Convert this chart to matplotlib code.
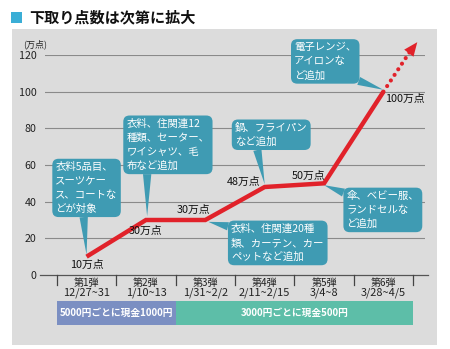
import matplotlib
matplotlib.use("Agg")
import matplotlib.pyplot as plt
from matplotlib.patches import Rectangle, FancyArrowPatch

plt.rcParams['font.family'] = ['Noto Sans CJK JP', 'DejaVu Sans']

# ---- data ----
rounds = ["第1弾", "第2弾", "第3弾", "第4弾", "第5弾", "第6弾"]
dates = ["12/27~31", "1/10~13", "1/31~2/2", "2/11~2/15", "3/4~8", "3/28~4/5"]
points = [10, 30, 30, 48, 50, 100]
point_labels = ["10万点", "30万点", "30万点", "48万点", "50万点", "100万点"]
yticks = [0, 20, 40, 60, 80, 100, 120]
callouts = [
    "衣料5品目、\nスーツケー\nス、コートな\nどが対象",
    "衣料、住関連12\n種類、セーター、\nワイシャツ、毛\n布など追加",
    "衣料、住関連20種\n類、カーテン、カー\nペットなど追加",
    "鍋、フライパン\nなど追加",
    "傘、ベビー服、\nランドセルな\nど追加",
    "電子レンジ、\nアイロンな\nど追加",
]
bands = ["5000円ごとに現金1000円", "3000円ごとに現金500円"]

RED = "#e1222a"
TEAL = "#3f9bb3"
GRID = "#8a8a8a"

fig = plt.figure(figsize=(4.5, 3.49), dpi=100)
fig.patch.set_facecolor("white")

# gray panel
fig.patches.append(Rectangle((12/450, 4/349), 425/450, 316/349, transform=fig.transFigure,
                             fc="#dcdcdc", ec="none", zorder=-5))
# title
fig.patches.append(Rectangle((11/450, (349-23)/349), 11/450, 11/349, transform=fig.transFigure,
                             fc="#3aaed6", ec="none", zorder=-4))
fig.text(29/450, (349-17)/349, "下取り点数は次第に拡大", fontsize=10.9, fontweight="bold",
         va="center", ha="left", color="#111111")

ax = fig.add_axes([45/450, 74/349, 380/450, 220/349])
ax.patch.set_visible(False)
for s in ax.spines.values():
    s.set_visible(False)
ax.set_xlim(-0.7, 5.7)
ax.set_ylim(0, 120)
ax.set_yticks(yticks)
ax.set_yticklabels([str(v) for v in yticks])
ax.set_xticks([])
ax.tick_params(axis="y", length=0, pad=6, labelsize=7.7, labelcolor="#222222")
for v in yticks[1:]:
    ax.axhline(v, color=GRID, lw=0.8, zorder=1)
ax.plot([-0.78, 5.75], [0, 0], color="#555555", lw=0.9, clip_on=False, zorder=2)
ax.text(-0.86, 126, "(万点)", fontsize=6.5, ha="center", va="center", color="#222222")

x = list(range(len(points)))
# main line
ax.plot(x, points, color=RED, lw=3.2, solid_capstyle="butt", solid_joinstyle="miter", zorder=3)
# dotted continuation + arrow head
tip = (5.57, 127)
base = (5.44, 121.5)
ax.plot([x[-1], base[0]], [points[-1], base[1]], color=RED, lw=3,
        linestyle=(0, (0.01, 1.6)), dash_capstyle="round", clip_on=False, zorder=3)
ax.add_patch(FancyArrowPatch(base, tip, arrowstyle="-|>,head_length=1.0,head_width=0.42",
                             mutation_scale=10, color=RED, lw=0, shrinkA=0, shrinkB=0,
                             clip_on=False, zorder=3))

# value labels
label_pos = [(0, 5.5), (1.0, 24), (1.8, 35.5), (2.65, 50.8), (3.74, 54), (5.36, 96)]
for (lx, ly), t in zip(label_pos, point_labels):
    ax.text(lx, ly, t, fontsize=7.8, ha="center", va="center", color="#111111", zorder=5)

# callouts
callout_pos = [
    ((0.0, 47.5), (0, 11), (0.45, 0.0)),
    ((1.37, 71), (1.02, 32), (0.25, 0.0)),
    ((3.22, 17.5), (2.05, 29), (0.12, 0.85)),
    ((3.11, 76.5), (3.0, 49.5), (0.3, 0.0)),
    ((4.99, 35.5), (4.0, 49), (0.1, 0.85)),
    ((4.02, 116.5), (5.0, 101), (0.85, 0.1)),
]
for t, (xt, xy, rp) in zip(callouts, callout_pos):
    ax.annotate(t, xy=xy, xytext=xt, ha="center", va="center", multialignment="left",
                color="white", fontsize=7.5, linespacing=1.5, zorder=4,
                annotation_clip=False,
                bbox=dict(boxstyle="round,pad=0.3,rounding_size=0.6", fc=TEAL, ec="none"),
                arrowprops=dict(arrowstyle="wedge,tail_width=0.8,shrink_factor=0.5",
                                fc=TEAL, ec="none", relpos=rp, shrinkA=0, shrinkB=0))

# category separators and labels
for i in range(len(rounds) + 1):
    ax.plot([i - 0.5, i - 0.5], [0, -5.5], color="#444444", lw=0.9, clip_on=False, zorder=2)
for i, (r, d) in enumerate(zip(rounds, dates)):
    ax.text(i, -4.3, r, fontsize=7.2, ha="center", va="center", color="#222222")
    ax.text(i, -9.9, d, fontsize=7.9, ha="center", va="center", color="#222222")

# bottom bands
ax.add_patch(Rectangle((-0.5, -27.3), 2.0, 13.1, fc="#7b8fc2", ec="none", clip_on=False))
ax.add_patch(Rectangle((1.5, -27.3), 4.0, 13.1, fc="#5dbea8", ec="none", clip_on=False))
ax.text(0.5, -20.7, bands[0], fontsize=7, fontweight="bold", color="white", ha="center", va="center")
ax.text(3.5, -20.7, bands[1], fontsize=7, fontweight="bold", color="white", ha="center", va="center")

fig.savefig("out.png", dpi=100)
